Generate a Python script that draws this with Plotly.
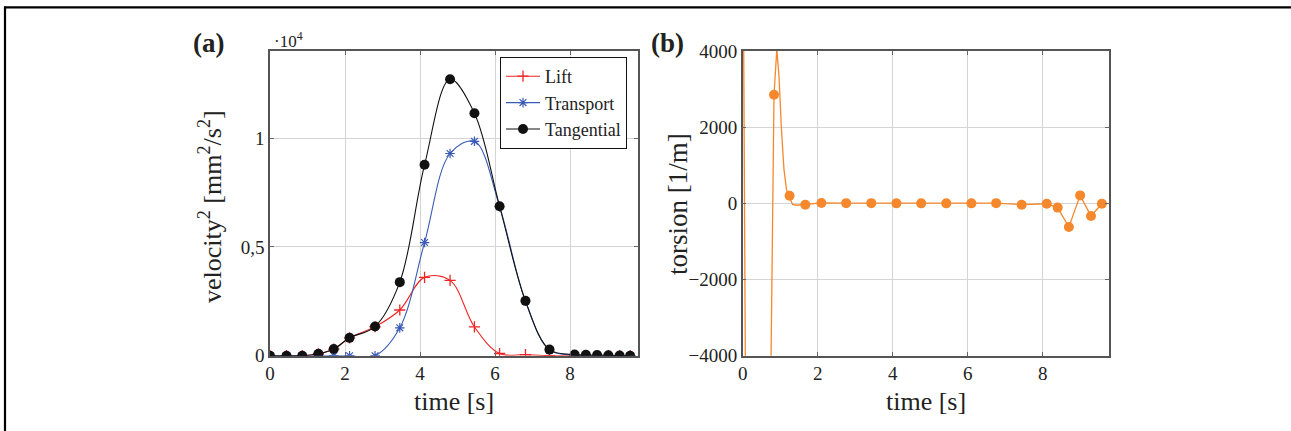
import plotly.graph_objects as go

W, H = 1291, 431

# ---------------- data ----------------
time_samples = [0.0, 0.44, 0.86, 1.29, 1.70, 2.12, 2.80, 3.46, 4.12, 4.80,
                5.45, 6.12, 6.81, 7.45, 8.12, 8.42, 8.72, 9.02, 9.32, 9.60]
lift = [0, 0, 0, 90, 300, 820, 1330, 2100, 3600, 3460,
        1320, 100, 50, 0, 0, 0, 0, 0, 0, 0]
transport = [0, 0, 0, 0, 0, 0, 0, 1280, 5200, 9290,
             9850, 6850, 2500, 270, 30, 0, 0, 0, 0, 0]
tangential = [0, 0, 0, 90, 310, 820, 1340, 3380, 8770, 12700,
              11140, 6870, 2520, 280, 50, 40, 30, 20, 10, 0]

torsion_t = [0.835, 1.25, 1.67, 2.10, 2.76, 3.43, 4.10, 4.76, 5.43, 6.10,
             6.76, 7.44, 8.11, 8.40, 8.70, 9.00, 9.29, 9.58]
torsion_v = [2850, 200, -35, 10, 5, 5, 0, 0, 0, 0,
             5, -35, -10, -112, -620, 209, -332, -10]
# continuous torsion curve, including the off-scale part near t = 0
torsion_curve_t = [0.0, 0.12, 0.70, 0.835, 0.91, 0.97, 1.03, 1.10, 1.17, 1.25,
                   1.33, 1.45, 1.67, 2.10, 2.76, 3.43, 4.10, 4.76, 5.43, 6.10,
                   6.76, 7.44, 8.11, 8.40, 8.70, 9.00, 9.29, 9.58]
torsion_curve_v = [9100, -13500, -9000, 2850, 4050, 3300, 2000, 900, 350, 150,
                   -30, -50, -35, 10, 5, 5, 0, 0, 0, 0,
                   5, -35, -10, -112, -620, 209, -332, -10]

x_ticks = [0, 2, 4, 6, 8]
vel_ticks = [0, 5000, 10000]
vel_ticktext = ["0", "0,5", "1"]
tor_ticks = [-4000, -2000, 0, 2000, 4000]

# ---------------- figure ----------------
SERIF = "Liberation Serif"
TXT = "#222222"
RED = "#f02424"
BLUE = "#3a5bb5"
ORANGE = "#f5882c"

fig = go.Figure()

fig.add_trace(go.Scatter(
    x=time_samples, y=lift, name="Lift", mode="lines+markers",
    line=dict(color=RED, width=1.1, shape="spline", smoothing=1.0),
    marker=dict(symbol="cross-thin", size=8, line=dict(color=RED, width=1.3)),
    xaxis="x", yaxis="y"))
fig.add_trace(go.Scatter(
    x=time_samples, y=transport, name="Transport", mode="lines+markers",
    line=dict(color=BLUE, width=1.1, shape="spline", smoothing=1.0),
    marker=dict(symbol="asterisk-open", size=8, line=dict(color=BLUE, width=1.2)),
    xaxis="x", yaxis="y"))
fig.add_trace(go.Scatter(
    x=time_samples, y=tangential, name="Tangential", mode="lines+markers",
    line=dict(color="#111111", width=1.1, shape="spline", smoothing=1.0),
    marker=dict(symbol="circle", size=10, color="#111111"),
    xaxis="x", yaxis="y"))

fig.add_trace(go.Scatter(
    x=torsion_curve_t, y=torsion_curve_v, mode="lines", showlegend=False,
    line=dict(color=ORANGE, width=1.3), xaxis="x2", yaxis="y2"))
fig.add_trace(go.Scatter(
    x=torsion_t, y=torsion_v, mode="markers", showlegend=False,
    marker=dict(symbol="circle", size=10, color=ORANGE), xaxis="x2", yaxis="y2"))

ydom = [1 - 355.7 / H, 1 - 51 / H]
ax_common = dict(
    showline=True, linecolor="#555555", linewidth=1.5, mirror="ticks",
    ticks="inside", ticklen=4, tickcolor="#666666",
    showgrid=True, gridcolor="#d4d4d4", gridwidth=1,
    zeroline=False, automargin=False,
    tickfont=dict(family=SERIF, size=19, color=TXT),
)

fig.update_layout(
    width=W, height=H, autosize=False,
    margin=dict(l=0, r=0, t=0, b=0, pad=0, autoexpand=False),
    paper_bgcolor="white", plot_bgcolor="white",
    xaxis=dict(domain=[270 / W, 638 / W], range=[0, 9.81], tickvals=x_ticks,
               anchor="y", **ax_common),
    yaxis=dict(domain=ydom, range=[0, 14000], tickvals=vel_ticks,
               ticktext=vel_ticktext, anchor="x", **ax_common),
    xaxis2=dict(domain=[742.7 / W, 1109 / W], range=[0, 9.77], tickvals=x_ticks,
                anchor="y2", **ax_common),
    yaxis2=dict(domain=ydom, range=[-4000, 4000], tickvals=tor_ticks,
                anchor="x2", **ax_common),
    legend=dict(x=500 / W, y=1 - 57 / H, xanchor="left", yanchor="top",
                bgcolor="white", bordercolor="#111111", borderwidth=1,
                font=dict(family=SERIF, size=18, color=TXT),
                tracegroupgap=0, itemwidth=34),
    showlegend=True,
)

def ann(x, y, text, size, bold=False, angle=0):
    fig.add_annotation(
        x=x / W, y=1 - y / H, xref="paper", yref="paper", text=text,
        showarrow=False, textangle=angle, xanchor="center", yanchor="middle",
        font=dict(family=SERIF, size=size, color=TXT,
                  weight="bold" if bold else "normal"))

ann(209, 43, "(a)", 27, bold=True)
ann(667, 43, "(b)", 27, bold=True)
ann(288, 40, "·10<sup>4</sup>", 17)
ann(454, 401, "time [s]", 26)
ann(926, 401, "time [s]", 26)
ann(210, 207, "velocity<sup>2</sup> [mm<sup>2</sup>/s<sup>2</sup>]", 26, angle=-90)
ann(678, 204, "torsion [1/m]", 27, angle=-90)

# outer frame lines (top and left)
fig.add_shape(type="line", xref="paper", yref="paper",
              x0=4 / W, x1=1, y0=1 - 7.3 / H, y1=1 - 7.3 / H,
              line=dict(color="black", width=2.2))
fig.add_shape(type="line", xref="paper", yref="paper",
              x0=5 / W, x1=5 / W, y0=0, y1=1 - 6.5 / H,
              line=dict(color="black", width=2.2))

post = """
document.documentElement.style.margin='0';
document.body.style.margin='0';
document.body.style.overflow='hidden';
"""

fig.write_html("out.html", config={"displayModeBar": False}, post_script=post)
